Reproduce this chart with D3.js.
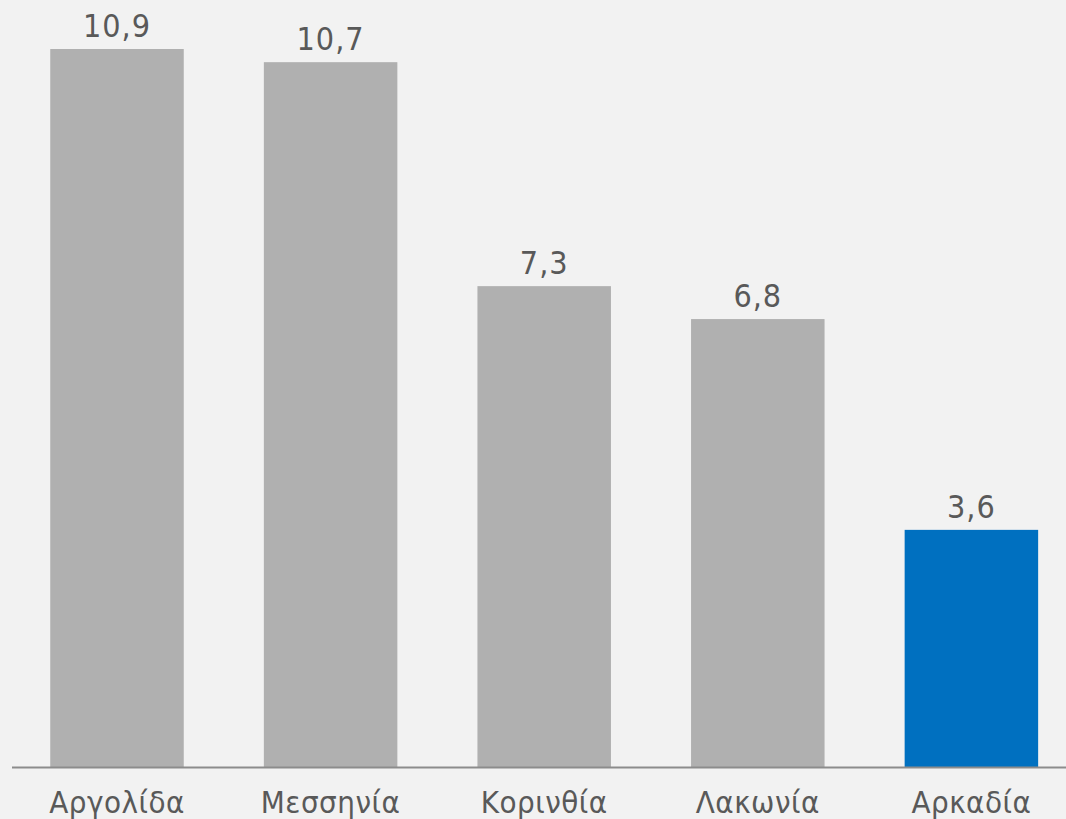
<!DOCTYPE html>
<html><head><meta charset="utf-8">
<script src="https://cdn.jsdelivr.net/npm/d3@7"></script>
<style>
html,body{margin:0;padding:0;background:#f2f2f2;}
svg{display:block;}
text{font-family:"DejaVu Sans Condensed","DejaVu Sans",sans-serif;fill:#595959;}
</style></head>
<body>
<svg id="chart" width="1066" height="819"></svg>
<script>
const categories = ["Αργολίδα","Μεσσηνία","Κορινθία","Λακωνία","Αρκαδία"];
const values = [10.9, 10.7, 7.3, 6.8, 3.6];
const labels = ["10,9","10,7","7,3","6,8","3,6"];
const highlight = ["Αρκαδία"];

const svg = d3.select("#chart");
const W = 1066, H = 819;
svg.append("rect").attr("width",W).attr("height",H).attr("fill","#f2f2f2");

const x = d3.scaleBand().domain(categories).range([10.2, 1078.2]).paddingInner(0.375).paddingOuter(0.1875);
const y = d3.scaleLinear().domain([0, 10.9]).range([767, 49]);

const data = categories.map((c,i)=>({c, v:values[i], l:labels[i]}));

svg.selectAll("rect.bar").data(data).enter().append("rect")
  .attr("class","bar")
  .attr("x", d=>x(d.c))
  .attr("width", x.bandwidth())
  .attr("y", d=>y(d.v))
  .attr("height", d=>y(0)-y(d.v))
  .attr("fill", d=> highlight.includes(d.c) ? "#0070c0" : "#b0b0b0");

svg.selectAll("text.val").data(data).enter().append("text")
  .attr("class","val")
  .attr("x", d=>x(d.c)+x.bandwidth()/2)
  .attr("y", d=>y(d.v)-12)
  .attr("text-anchor","middle")
  .attr("font-size", 32)
  .attr("letter-spacing", 1)
  .text(d=>d.l);

svg.append("line").attr("x1",12).attr("x2",W).attr("y1",767.5).attr("y2",767.5)
  .attr("stroke","#8c8c8c").attr("stroke-width",2);

svg.selectAll("text.cat").data(data).enter().append("text")
  .attr("class","cat")
  .attr("x", d=>x(d.c)+x.bandwidth()/2)
  .attr("y", 813)
  .attr("text-anchor","middle")
  .attr("font-size", 31)
  .attr("letter-spacing", 0.5)
  .text(d=>d.c);
</script>
</body></html>
